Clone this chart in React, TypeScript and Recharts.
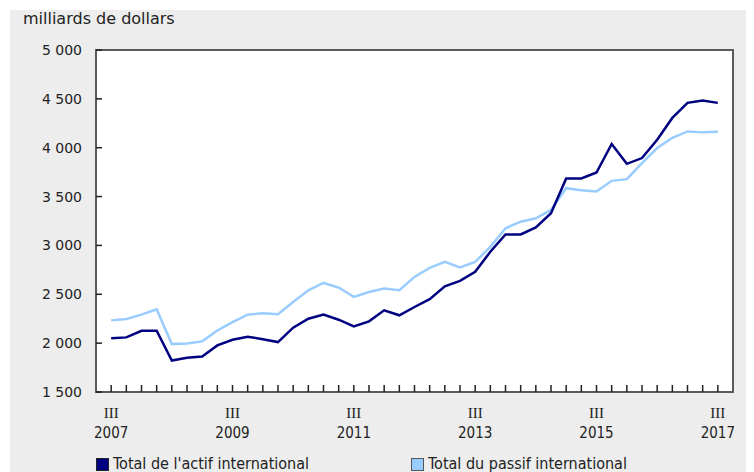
import React from 'react';
import { LineChart, Line, XAxis, YAxis, Legend } from 'recharts';

const periods: string[] = [
  '2007 III', '2007 IV', '2008 I', '2008 II', '2008 III', '2008 IV', '2009 I', '2009 II',
  '2009 III', '2009 IV', '2010 I', '2010 II', '2010 III', '2010 IV', '2011 I', '2011 II',
  '2011 III', '2011 IV', '2012 I', '2012 II', '2012 III', '2012 IV', '2013 I', '2013 II',
  '2013 III', '2013 IV', '2014 I', '2014 II', '2014 III', '2014 IV', '2015 I', '2015 II',
  '2015 III', '2015 IV', '2016 I', '2016 II', '2016 III', '2016 IV', '2017 I', '2017 II',
  '2017 III',
];

const actif: number[] = [
  2051, 2059, 2127, 2127, 1822, 1850, 1864, 1977, 2035, 2066, 2040, 2011, 2158, 2250,
  2292, 2240, 2172, 2223, 2336, 2285, 2370, 2450, 2582, 2637, 2730, 2935, 3113, 3113,
  3185, 3329, 3685, 3685, 3746, 4038, 3835, 3894, 4082, 4305, 4459, 4482, 4459,
];

const passif: number[] = [
  2233, 2247, 2292, 2346, 1990, 1997, 2018, 2130, 2216, 2292, 2305, 2295, 2421, 2541,
  2616, 2569, 2473, 2524, 2559, 2541, 2678, 2770, 2832, 2775, 2832, 2986, 3175, 3243,
  3278, 3363, 3586, 3565, 3551, 3661, 3678, 3843, 3997, 4100, 4167, 4157, 4164,
];

const yTicks: number[] = [1500, 2000, 2500, 3000, 3500, 4000, 4500, 5000];
const xLabelQuarter = 'III';
const xLabelYears: string[] = ['2007', '2009', '2011', '2013', '2015', '2017'];
const seriesNames: string[] = ["Total de l'actif international", 'Total du passif international'];
const unitLabel = 'milliards de dollars';

const COLOR_ACTIF = '#000080';
const COLOR_PASSIF = '#99CCFF';
const FRAME = '#5a5a5a';

const CHART_W = 744;
const CHART_H = 462;
const PLOT_LEFT = 86;
const PLOT_TOP = 40;
const PLOT_RIGHT_MARGIN = 21;
const X_AXIS_H = 40;
const LEGEND_H = 40;
const PLOT_W = CHART_W - PLOT_LEFT - PLOT_RIGHT_MARGIN;
const PLOT_H = CHART_H - PLOT_TOP - X_AXIS_H - LEGEND_H;

const data = periods.map((p, i) => ({ idx: i, period: p, actif: actif[i], passif: passif[i] }));
const xTicks = periods.map((_, i) => i);

const fmt = (v: number) => {
  const th = Math.floor(v / 1000);
  const rest = String(v % 1000).padStart(3, '0');
  return `${th}\u00a0${rest}`;
};

const XTick = (props: any) => {
  const { x, y, payload } = props;
  const i = payload.value as number;
  const showLabel = i % 8 === 0;
  const year = xLabelYears[i / 8];
  return (
    <g>
      <rect x={x - 0.75} y={y - 7} width={1.5} height={7} fill="#222" />
      {showLabel && (
        <>
          <text x={x} y={y + 26} textAnchor="middle" fontFamily="'Liberation Serif', serif" fontSize={15} fill="#222">
            {xLabelQuarter}
          </text>
          <text x={x} y={y + 46} textAnchor="middle" fontFamily="'DejaVu Sans Condensed', 'DejaVu Sans', sans-serif" fontSize={15} fill="#222">
            {year}
          </text>
        </>
      )}
    </g>
  );
};

const YTick = (props: any) => {
  const { x, y, payload } = props;
  return (
    <g>
      <rect x={x} y={y - 0.75} width={6} height={1.5} fill="#222" />
      <text x={x - 14} y={y + 5} textAnchor="end" fontFamily="'DejaVu Sans', sans-serif" fontSize={14} fill="#222">
        {fmt(payload.value)}
      </text>
    </g>
  );
};

const LegendContent = () => {
  const items = [
    { name: seriesNames[0], color: COLOR_ACTIF, border: '#222', left: 86 },
    { name: seriesNames[1], color: COLOR_PASSIF, border: '#555', left: 401 },
  ];
  return (
    <div style={{ position: 'relative', height: LEGEND_H, width: CHART_W }}>
      {items.map((it) => (
        <div
          key={it.name}
          style={{
            position: 'absolute',
            left: it.left,
            top: 25,
            display: 'flex',
            alignItems: 'center',
            height: 14,
          }}
        >
          <span
            style={{
              display: 'inline-block',
              width: 13,
              height: 13,
              background: it.color,
              border: `1px solid ${it.border}`,
              boxSizing: 'border-box',
              marginRight: 4,
            }}
          />
          <span
            style={{
              fontFamily: "'DejaVu Sans Condensed', 'DejaVu Sans', sans-serif",
              fontSize: 16,
              color: '#222',
              whiteSpace: 'nowrap',
              lineHeight: '14px',
            }}
          >
            {it.name}
          </span>
        </div>
      ))}
    </div>
  );
};

export default function App() {
  return (
    <div style={{ padding: '2px 0 0 2px' }}>
      <div style={{ position: 'relative', width: CHART_W, height: CHART_H, background: '#ededed' }}>
        <div
          style={{
            position: 'absolute',
            left: PLOT_LEFT - 1,
            top: PLOT_TOP - 1,
            width: PLOT_W + 2,
            height: PLOT_H + 2,
            background: '#ffffff',
            border: `2px solid ${FRAME}`,
            boxSizing: 'border-box',
          }}
        />
        <div style={{ position: 'absolute', left: 0, top: 0 }}>
          <LineChart
            width={CHART_W}
            height={CHART_H}
            data={data}
            margin={{ top: PLOT_TOP, right: PLOT_RIGHT_MARGIN, left: 0, bottom: 0 }}
          >
            <XAxis
              dataKey="idx"
              type="number"
              domain={[-1, 41]}
              ticks={xTicks}
              interval={0}
              tickLine={false}
              tickSize={0}
              tickMargin={0}
              axisLine={{ stroke: FRAME, strokeWidth: 2 }}
              height={X_AXIS_H}
              tick={<XTick />}
              allowDataOverflow
            />
            <YAxis
              type="number"
              domain={[1500, 5000]}
              ticks={yTicks}
              interval={0}
              tickLine={false}
              tickSize={0}
              tickMargin={0}
              axisLine={{ stroke: FRAME, strokeWidth: 2 }}
              width={PLOT_LEFT}
              tick={<YTick />}
              allowDataOverflow
            />
            <Line
              type="linear"
              dataKey="passif"
              name={seriesNames[1]}
              stroke={COLOR_PASSIF}
              strokeWidth={2.5}
              dot={false}
              isAnimationActive={false}
            />
            <Line
              type="linear"
              dataKey="actif"
              name={seriesNames[0]}
              stroke={COLOR_ACTIF}
              strokeWidth={2.5}
              dot={false}
              isAnimationActive={false}
            />
            <Legend
              verticalAlign="bottom"
              align="left"
              content={<LegendContent />}
              wrapperStyle={{ left: 0, width: CHART_W, height: LEGEND_H }}
            />
          </LineChart>
        </div>
        <svg
          width={CHART_W}
          height={40}
          style={{ position: 'absolute', left: 0, top: 0, pointerEvents: 'none' }}
        >
          <text x={13} y={14} fontFamily="'DejaVu Sans', sans-serif" fontSize={16} fill="#222">
            {unitLabel}
          </text>
        </svg>
      </div>
    </div>
  );
}
